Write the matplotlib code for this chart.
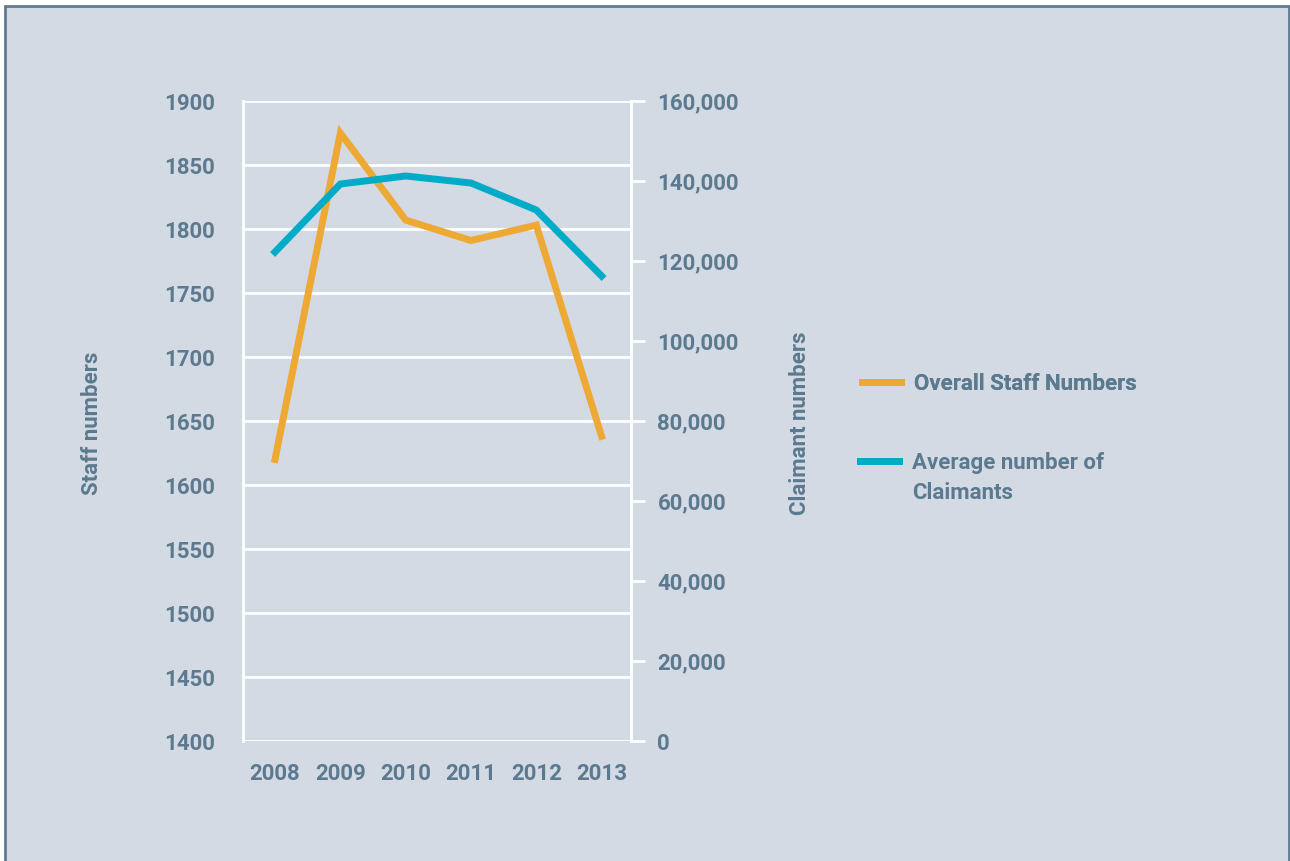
import matplotlib.pyplot as plt
from matplotlib.lines import Line2D
from matplotlib.patches import Rectangle
from matplotlib.ticker import FuncFormatter

years = ['2008', '2009', '2010', '2011', '2012', '2013']
staff = [1620, 1875, 1807, 1791, 1803, 1638]
claimants = [122250, 139250, 141250, 139500, 132750, 116250]

staff_ticks = list(range(1400, 1901, 50))
claimant_ticks = list(range(0, 160001, 20000))

BG = '#d3dae3'
TXT = '#5b7a90'
ORANGE = '#eea935'
BLUE = '#00abc8'

plt.rcParams['font.family'] = ['Roboto', 'DejaVu Sans']
plt.rcParams['font.weight'] = 'bold'

fig = plt.figure(figsize=(12.9, 8.61), dpi=100, facecolor='white')
# background panel with border
fig.patches.append(Rectangle((4.5 / 1290, -0.05), 1284.5 / 1290, 1.05 - 6 / 861,
                             transform=fig.transFigure, facecolor=BG,
                             edgecolor='#5f7b92', linewidth=2, zorder=-10))

ax = fig.add_axes([243 / 1290, 1 - 741 / 861, 388 / 1290, 640 / 861])
ax.patch.set_alpha(0)
x = list(range(len(years)))

ax2 = ax.twinx()

ln1, = ax.plot(x, staff, color=ORANGE, lw=5, solid_joinstyle='miter', zorder=3)
ln2, = ax2.plot(x, claimants, color=BLUE, lw=5, solid_joinstyle='miter', zorder=3)

ax.set_xlim(-0.49, 5.45)
ax.set_ylim(1400, 1900)
ax2.set_ylim(0, 160000)

ax.set_yticks(staff_ticks)
ax.grid(axis='y', color='white', lw=2)
ax.set_axisbelow(True)
ax.tick_params(axis='y', length=0, pad=20, labelsize=16, labelcolor=TXT)
ax.set_xticks(x)
ax.set_xticklabels(years)
ax.tick_params(axis='x', length=0, pad=16, labelsize=16, labelcolor=TXT)

ax2.set_yticks(claimant_ticks)
ax2.yaxis.set_major_formatter(FuncFormatter(lambda v, p: f'{int(v):,}'))
ax2.tick_params(axis='y', length=10, width=2, color='white', pad=9,
                labelsize=16, labelcolor=TXT)

for a in (ax, ax2):
    for s in a.spines.values():
        s.set_visible(False)
ax.spines['left'].set_visible(True)
ax.spines['left'].set_color('white')
ax.spines['left'].set_linewidth(2)
ax2.spines['right'].set_visible(True)
ax2.spines['right'].set_color('white')
ax2.spines['right'].set_linewidth(2)

fig.text(92 / 1290, 1 - 423 / 861, 'Staff numbers', rotation=90, color=TXT,
         fontsize=16, ha='center', va='center')
fig.text(800 / 1290, 1 - 423 / 861, 'Claimant numbers', rotation=90, color=TXT,
         fontsize=16, ha='center', va='center')

leg_kw = dict(frameon=False, fontsize=16, handlelength=1.75, handletextpad=0.6,
              labelcolor=TXT, borderpad=0, borderaxespad=0)
leg1 = fig.legend([ln1], ['Overall Staff Numbers'], loc='center left',
                  bbox_to_anchor=(862 / 1290, 1 - 384 / 861), **leg_kw)
blank = Line2D([], [], color='none')
leg2 = fig.legend([ln2, blank], ['Average number of', 'Claimants'],
                  loc='upper left', bbox_to_anchor=(860 / 1290, 1 - 452 / 861),
                  labelspacing=0.38, **leg_kw)
fig.add_artist(leg1)
for lg in (leg1, leg2):
    for h in lg.get_lines():
        h.set_linewidth(5)

fig.savefig('out.png', dpi=100, facecolor='white')
